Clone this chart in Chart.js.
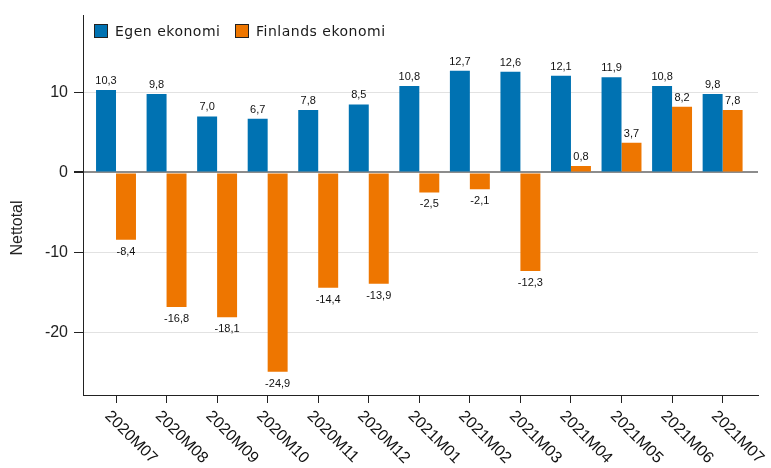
<!DOCTYPE html>
<html>
<head>
<meta charset="utf-8">
<script src="https://cdn.jsdelivr.net/npm/chart.js@4.4.1/dist/chart.umd.min.js"></script>
<style>
  body { margin: 0; background: #fff; }
  #wrap { position: relative; width: 771px; height: 468px; }
  .key { position: absolute; top: 24px; width: 12px; height: 12px; border: 1px solid #222; }
  .lbl { position: absolute; top: 23px; font: 14px/16px "DejaVu Sans", sans-serif; letter-spacing: 0.5px; color: #1a1a1a; white-space: nowrap; }
</style>
</head>
<body>
<div id="wrap">
  <canvas id="chart" width="771" height="468"></canvas>
  <div class="key" style="left:94px; background:#0072b2"></div>
  <div class="lbl" style="left:115px">Egen ekonomi</div>
  <div class="key" style="left:235px; background:#ee7600"></div>
  <div class="lbl" style="left:256px">Finlands ekonomi</div>
</div>
<script>
const months = ['2020M07', '2020M08', '2020M09', '2020M10', '2020M11', '2020M12',
  '2021M01', '2021M02', '2021M03', '2021M04', '2021M05', '2021M06', '2021M07'];
const egen = [10.3, 9.8, 7.0, 6.7, 7.8, 8.5, 10.8, 12.7, 12.6, 12.1, 11.9, 10.8, 9.8];
const finland = [-8.4, -16.8, -18.1, -24.9, -14.4, -13.9, -2.5, -2.1, -12.3, 0.8, 3.7, 8.2, 7.8];
const yTicks = [-20, -10, 0, 10];
const seriesNames = ['Egen ekonomi', 'Finlands ekonomi'];
const colors = ['#0072b2', '#ee7600'];

Chart.defaults.font.family = '"Liberation Sans", Arial, sans-serif';

// value labels on bars + rotated month labels + y title
const extras = {
  id: 'extras',
  afterDatasetsDraw(chart) {
    const ctx = chart.ctx;
    ctx.save();
    ctx.font = '11px "Liberation Sans", Arial, sans-serif';
    ctx.fillStyle = '#111';
    ctx.textAlign = 'center';
    ctx.textBaseline = 'alphabetic';
    chart.data.datasets.forEach((ds, di) => {
      chart.getDatasetMeta(di).data.forEach((bar, i) => {
        const v = ds.data[i].y;
        const txt = v.toFixed(1).replace('.', ',');
        ctx.fillText(txt, bar.x, v >= 0 ? bar.y - 6 : bar.y + 15);
      });
    });
    ctx.restore();
  },
  afterDraw(chart) {
    const ctx = chart.ctx;
    const xs = chart.scales.x;
    ctx.save();
    ctx.font = '16px "Liberation Sans", Arial, sans-serif';
    ctx.fillStyle = '#111';
    ctx.textAlign = 'left';
    ctx.textBaseline = 'top';
    months.forEach((m, i) => {
      ctx.save();
      ctx.translate(xs.getPixelForValue(i) - 3, xs.top + 13);
      ctx.rotate(Math.PI / 4);
      ctx.fillText(m, 0, 0);
      ctx.restore();
    });
    ctx.font = '16px "Liberation Sans", Arial, sans-serif';
    ctx.fillStyle = '#222';
    ctx.translate(18, 228);
    ctx.rotate(-Math.PI / 2);
    ctx.textAlign = 'center';
    ctx.textBaseline = 'middle';
    ctx.fillText('Nettotal', 0, 0);
    ctx.restore();
  }
};

new Chart(document.getElementById('chart'), {
  type: 'bar',
  data: {
    datasets: [
      {
        label: seriesNames[0],
        data: egen.map((v, i) => ({ x: i, y: v })),
        backgroundColor: colors[0],
        categoryPercentage: 0.79,
        barPercentage: 1
      },
      {
        label: seriesNames[1],
        data: finland.map((v, i) => ({ x: i, y: v })),
        backgroundColor: colors[1],
        categoryPercentage: 0.79,
        barPercentage: 1
      }
    ]
  },
  options: {
    responsive: false,
    animation: false,
    devicePixelRatio: 1,
    layout: { padding: { top: 13, right: 13, left: 0, bottom: 0 } },
    plugins: { legend: { display: false }, tooltip: { enabled: false } },
    scales: {
      x: {
        type: 'linear',
        min: -0.653,
        max: 12.7,
        bounds: 'data',
        offset: false,
        afterBuildTicks: s => { s.ticks = months.map((m, i) => ({ value: i })); },
        afterFit: s => { s.height = 73; },
        ticks: { display: false },
        grid: { offset: false, drawOnChartArea: false, tickLength: 8, tickColor: '#222' },
        border: { color: '#222' }
      },
      y: {
        min: -27.8,
        max: 19.6,
        afterBuildTicks: s => { s.ticks = yTicks.map(v => ({ value: v })); },
        afterFit: s => { s.width = 83; },
        ticks: { padding: 6, color: '#222', font: { size: 16 } },
        grid: {
          color: c => (c.tick && c.tick.value === 0 ? '#8c8c8c' : '#e2e2e2'),
          lineWidth: c => (c.tick && c.tick.value === 0 ? 2 : 1),
          tickLength: 9,
          tickColor: '#222'
        },
        border: { color: '#222' }
      }
    }
  },
  plugins: [extras]
});
</script>
</body>
</html>
